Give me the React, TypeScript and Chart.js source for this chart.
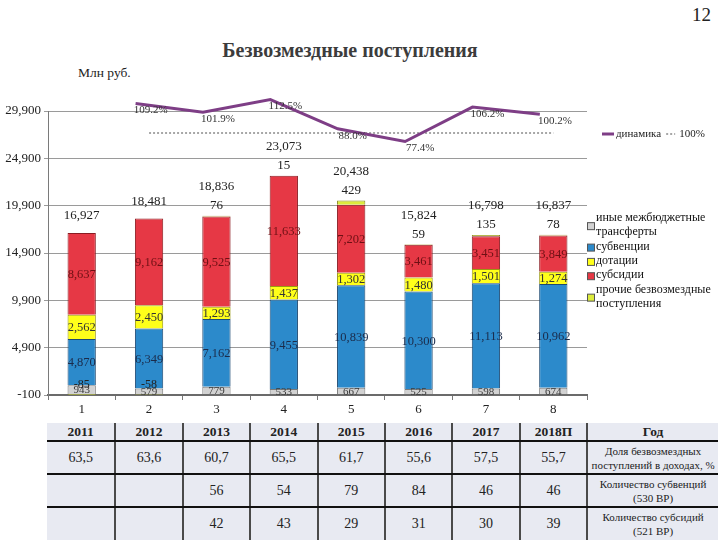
import React, { useEffect, useRef } from 'react';
import { Chart, registerables } from 'chart.js';

Chart.register(...registerables);

const SERIF = '"Liberation Serif", "Times New Roman", serif';

// ---- Data ----
const CATEGORIES = ['1', '2', '3', '4', '5', '6', '7', '8'];
const OTHER_TRANSFERS = [943, 579, 779, 533, 667, 525, 598, 674];
const SUBVENTIONS = [4870, 6349, 7162, 9455, 10839, 10300, 11113, 10962];
const GRANTS = [2562, 2450, 1293, 1437, 1302, 1480, 1501, 1274];
const SUBSIDIES = [8637, 9162, 9525, 11633, 7202, 3461, 3451, 3849];
const OTHER_RECEIPTS = [-85, -58, 76, 15, 429, 59, 135, 78];
const TOTALS = [16927, 18481, 18836, 23073, 20438, 15824, 16798, 16837];
const SERIES_NAMES = [
  'иные межбюджетные трансферты',
  'субвенции',
  'дотации',
  'субсидии',
  'прочие безвозмездные поступления',
];
const DYNAMICS_X = [2, 3, 4, 5, 6, 7, 8];
const DYNAMICS = [109.2, 101.9, 112.5, 88.0, 77.4, 106.2, 100.2];
const BASELINE = [null, 100, 100, 100, 100, 100, 100, 100];
const LINE_NAMES = ['динамика', '100%'];
const Y_MIN = -100;
const Y_MAX = 29900;
const Y_STEP = 5000;

const YEARS = ['2011', '2012', '2013', '2014', '2015', '2016', '2017', '2018П'];
const SHARE = ['63,5', '63,6', '60,7', '65,5', '61,7', '55,6', '57,5', '55,7'];
const SUBVENTION_COUNT = ['', '', '56', '54', '79', '84', '46', '46'];
const SUBSIDY_COUNT = ['', '', '42', '43', '29', '31', '30', '39'];

// ---- Styles ----
const FILLS = ['#D2D2D2', '#2C8ACB', '#FFFF1A', '#E63845', '#DCEB3C'];
const BORDERS = ['#7a7a7a', '#1f4a72', '#9a9a10', '#8a1c22', '#8a8a20'];
const LABEL_COLORS = ['#3a3a3a', '#1b2b4a', '#333333', '#6e1014', '#222222'];

const fmt = (v: number) => v.toLocaleString('en-US');

const labelsPlugin = {
  id: 'segLabels',
  afterDatasetsDraw(chart: any) {
    const ctx = chart.ctx;
    const ys = chart.scales.y;
    ctx.save();
    ctx.textAlign = 'center';
    ctx.textBaseline = 'middle';
    for (let d = 0; d < 4; d++) {
      const meta = chart.getDatasetMeta(d);
      meta.data.forEach((el: any, j: number) => {
        const v = chart.data.datasets[d].data[j] as number;
        ctx.font = (d === 0 ? '11px ' : '12.5px ') + SERIF;
        ctx.fillStyle = LABEL_COLORS[d];
        ctx.fillText(fmt(v), el.x, (el.y + el.base) / 2 + 1);
      });
    }
    const meta4 = chart.getDatasetMeta(4);
    meta4.data.forEach((el: any, j: number) => {
      const v = OTHER_RECEIPTS[j];
      let pos = 0;
      for (let d = 0; d < 5; d++) {
        const val = chart.data.datasets[d].data[j] as number;
        if (val > 0) pos += val;
      }
      const top = ys.getPixelForValue(pos);
      ctx.font = '13px ' + SERIF;
      ctx.fillStyle = '#222';
      if (v > 0) {
        ctx.fillText(fmt(v), el.x, top - 10);
        ctx.fillText(fmt(TOTALS[j]), el.x, top - 29);
      } else {
        ctx.font = '12px ' + SERIF;
        ctx.fillText(fmt(v), el.x, ys.getPixelForValue(0) - 9);
        ctx.font = '13px ' + SERIF;
        ctx.fillText(fmt(TOTALS[j]), el.x, top - 17);
      }
    });
    // dynamics labels
    const meta5 = chart.getDatasetMeta(5);
    ctx.font = '11px ' + SERIF;
    ctx.fillStyle = '#333';
    meta5.data.forEach((el: any, j: number) => {
      ctx.fillText(DYNAMICS[j].toFixed(1) + '%', el.x + 15, el.y + 7);
    });
    ctx.restore();
  },
};

function wrap(ctx: CanvasRenderingContext2D, text: string, maxW: number) {
  const words = text.split(' ');
  const lines: string[] = [];
  let cur = '';
  for (const w of words) {
    const t = cur ? cur + ' ' + w : w;
    if (ctx.measureText(t).width > maxW && cur) {
      lines.push(cur);
      cur = w;
    } else cur = t;
  }
  if (cur) lines.push(cur);
  return lines;
}

const legendPlugin = {
  id: 'customLegend',
  afterDraw(chart: any) {
    const ctx = chart.ctx;
    const ds = chart.data.datasets;
    ctx.save();
    ctx.textBaseline = 'middle';
    ctx.textAlign = 'left';
    // line legend
    ctx.font = '11px ' + SERIF;
    let x = 602;
    const ly = 134;
    ctx.strokeStyle = ds[5].borderColor;
    ctx.lineWidth = 3;
    ctx.beginPath();
    ctx.moveTo(x, ly);
    ctx.lineTo(x + 12, ly);
    ctx.stroke();
    x += 14;
    ctx.fillStyle = '#222';
    ctx.fillText(ds[5].label, x, ly);
    x += ctx.measureText(ds[5].label).width + 5;
    ctx.strokeStyle = ds[6].borderColor;
    ctx.lineWidth = 1.5;
    ctx.setLineDash([2, 2]);
    ctx.beginPath();
    ctx.moveTo(x, ly);
    ctx.lineTo(x + 9, ly);
    ctx.stroke();
    ctx.setLineDash([]);
    x += 13;
    ctx.fillText(ds[6].label, x, ly);

    // bar legend
    ctx.font = '12px ' + SERIF;
    let yy = 218;
    const lh = 14.3;
    for (let i = 0; i < 5; i++) {
      const lines = wrap(ctx, ds[i].label, 124);
      const boxY = yy + ((lines.length - 1) * lh) / 2 + 1;
      ctx.fillStyle = ds[i].backgroundColor;
      ctx.fillRect(587, boxY - 3.5, 7, 7);
      ctx.strokeStyle = '#555';
      ctx.lineWidth = 1;
      ctx.strokeRect(587.5, boxY - 3.5, 7, 7);
      ctx.fillStyle = '#111';
      lines.forEach((t: string, k: number) => ctx.fillText(t, 596, yy + k * lh));
      yy += lines.length * lh;
    }
    ctx.restore();
  },
};

export default function App() {
  const ref = useRef<HTMLCanvasElement>(null);

  useEffect(() => {
    const barSeries = [OTHER_TRANSFERS, SUBVENTIONS, GRANTS, SUBSIDIES, OTHER_RECEIPTS];
    const font = { family: SERIF, size: 13 };
    const chart = new Chart(ref.current as HTMLCanvasElement, {
      type: 'bar',
      data: {
        labels: CATEGORIES,
        datasets: [
          ...barSeries.map((s, i) => ({
            type: 'bar' as const,
            label: SERIES_NAMES[i],
            data: s,
            backgroundColor: FILLS[i],
            borderColor: BORDERS[i],
            borderWidth: 1,
            barPercentage: 0.42,
            categoryPercentage: 1,
            grouped: false,
            xAxisID: 'x',
            yAxisID: 'y',
            stack: 'main',
          })),
          {
            type: 'line' as const,
            label: LINE_NAMES[0],
            data: DYNAMICS.map((v, i) => ({ x: DYNAMICS_X[i], y: v })),
            xAxisID: 'x2',
            yAxisID: 'y2',
            borderColor: '#7E3E86',
            borderWidth: 3,
            pointRadius: 0,
            tension: 0,
            clip: false,
          } as any,
          {
            type: 'line' as const,
            label: LINE_NAMES[1],
            data: BASELINE,
            xAxisID: 'x',
            yAxisID: 'y3',
            borderColor: '#8a8a8a',
            borderWidth: 1.5,
            borderDash: [2, 2],
            pointRadius: 0,
          } as any,
        ],
      },
      options: {
        responsive: false,
        animation: false,
        devicePixelRatio: 1,
        layout: { padding: { left: 0, right: 133, top: 111, bottom: 0 } },
        plugins: { legend: { display: false }, tooltip: { enabled: false }, title: { display: false } },
        scales: {
          x: {
            type: 'category',
            stacked: true,
            offset: true,
            grid: { display: true, offset: true, drawOnChartArea: false, drawTicks: true, tickLength: 5, color: '#777' },
            border: { display: true, color: '#6b6b6b', width: 2 },
            ticks: { font, color: '#222', padding: 2 },
            afterFit: (s: any) => { s.height = 25; },
          },
          y: {
            type: 'linear',
            stacked: true,
            min: Y_MIN,
            max: Y_MAX,
            ticks: { stepSize: Y_STEP, font, color: '#222', padding: 3, callback: (v: any) => fmt(Number(v)) },
            grid: { color: '#9a9a9a', lineWidth: 1, tickLength: 4 },
            border: { display: true, color: '#7a7a7a', width: 1 },
            afterFit: (s: any) => { s.width = 48; },
          },
          y2: { type: 'linear', display: false, min: -134.4, max: 102.9 },
          y3: { type: 'linear', display: false, min: 0, max: 108.4 },
          x2: { type: 'linear', display: false, offset: false, grid: { offset: false }, min: 0.7, max: 8.7 },
        },
      } as any,
      plugins: [labelsPlugin, legendPlugin],
    });
    return () => chart.destroy();
  }, []);

  const colW = [68.4, 67.4, 67.4, 67.4, 67.4, 67.4, 67.4, 67.4, 131];
  const vBorder = '2px solid #4a4a4a';
  const hBorder = '2px solid #111';
  const cell = (content: React.ReactNode, k: number, opts: any = {}) => (
    <td
      key={k}
      style={{
        padding: 0,
        textAlign: 'center',
        verticalAlign: 'middle',
        borderRight: k < 8 ? vBorder : 'none',
        borderBottom: opts.last ? 'none' : hBorder,
        fontWeight: opts.bold ? 700 : 400,
        fontSize: opts.size || 14,
        lineHeight: opts.lh || '16px',
      }}
    >
      {content}
    </td>
  );
  const noteStyle = { size: 11, lh: '14px' };

  return (
    <div style={{ position: 'absolute', left: 0, top: 0, width: 720, height: 540, overflow: 'hidden', background: '#fff', fontFamily: SERIF }}>
      <div style={{ position: 'absolute', left: 692, top: 4, fontSize: 19, lineHeight: '22px', color: '#222' }}>12</div>
      <div style={{ position: 'absolute', left: 0, top: 38, width: 700, textAlign: 'center', fontSize: 20, fontWeight: 700, lineHeight: '24px', color: '#3c3c3c' }}>
        Безвозмездные поступления
      </div>
      <div style={{ position: 'absolute', left: 78, top: 65, fontSize: 13.5, lineHeight: '16px', color: '#222' }}>Млн руб.</div>
      <canvas ref={ref} width={720} height={420} style={{ position: 'absolute', left: 0, top: 0, width: 720, height: 420 }} />
      <table
        style={{
          position: 'absolute',
          left: 47,
          top: 423,
          width: 671,
          borderCollapse: 'collapse',
          tableLayout: 'fixed',
          background: '#E8EAF2',
          color: '#222',
          fontFamily: SERIF,
        }}
      >
        <colgroup>
          {colW.map((w, i) => (
            <col key={i} style={{ width: w }} />
          ))}
        </colgroup>
        <tbody>
          <tr style={{ height: 18 }}>
            {YEARS.map((y, i) => cell(y, i, { bold: true, size: 13.5 }))}
            {cell('Год', 8, { bold: true, size: 13.5 })}
          </tr>
          <tr style={{ height: 33 }}>
            {SHARE.map((v, i) => cell(v, i))}
            {cell(<>Доля безвозмездных<br />поступлений в доходах, %</>, 8, noteStyle)}
          </tr>
          <tr style={{ height: 33 }}>
            {SUBVENTION_COUNT.map((v, i) => cell(v, i))}
            {cell(<>Количество субвенций<br />(530 ВР)</>, 8, noteStyle)}
          </tr>
          <tr style={{ height: 33 }}>
            {SUBSIDY_COUNT.map((v, i) => cell(v, i, { last: true }))}
            {cell(<>Количество субсидий<br />(521 ВР)</>, 8, { ...noteStyle, last: true })}
          </tr>
        </tbody>
      </table>
    </div>
  );
}
